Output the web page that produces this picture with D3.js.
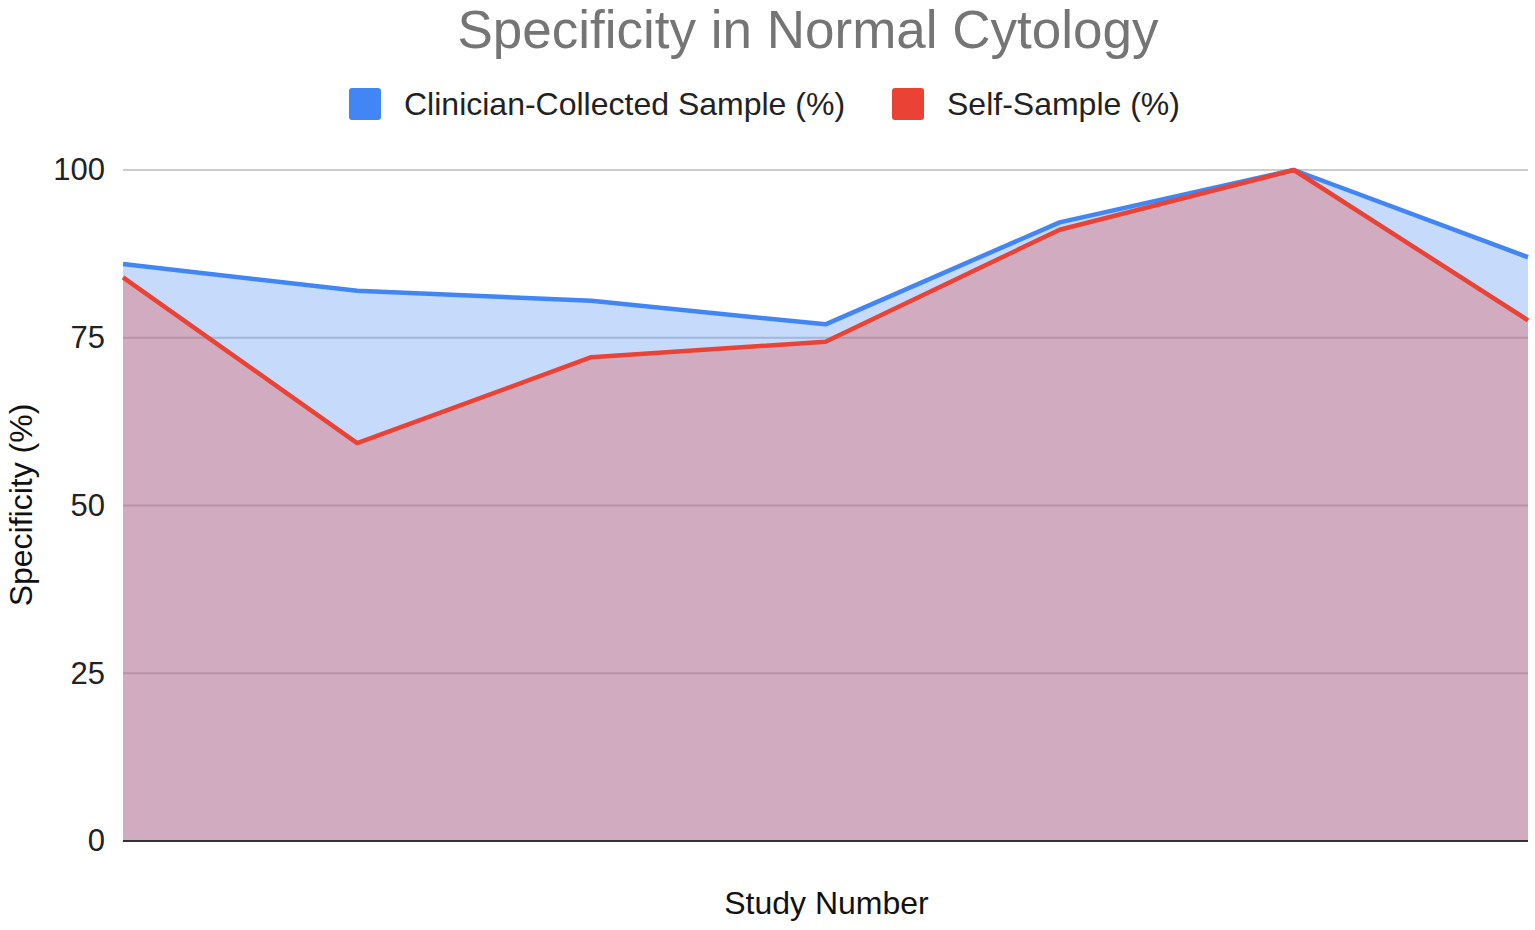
<!DOCTYPE html>
<html>
<head>
<meta charset="utf-8">
<script src="https://cdn.jsdelivr.net/npm/d3@7"></script>
<style>
  body { margin: 0; background: #fff; }
  svg { display: block; font-family: "Liberation Sans", Arial, sans-serif; }
</style>
</head>
<body>
<svg id="chart"></svg>
<script>
// data
const studies = [1, 2, 3, 4, 5, 6, 7];
const clinician = [86, 82, 80.5, 77, 92.2, 100, 87];
const selfSample = [84, 59.3, 72.1, 74.4, 91.1, 100, 77.6];
const yTicks = [0, 25, 50, 75, 100];
const seriesNames = ["Clinician-Collected Sample (%)", "Self-Sample (%)"];
const seriesColors = ["#4285f4", "#ea4335"];

const W = 1535, H = 930;
const margin = { top: 170, right: 7, bottom: 89, left: 123 };
const width = W - margin.left - margin.right;
const height = H - margin.top - margin.bottom;

const svg = d3.select("#chart").attr("width", W).attr("height", H);

const x = d3.scalePoint().domain(studies).range([0, width]);
const y = d3.scaleLinear().domain([0, 100]).range([height, 0]);

const g = svg.append("g").attr("transform", `translate(${margin.left},${margin.top})`);

// gridlines
g.append("g")
  .selectAll("line")
  .data(yTicks.filter(d => d !== 0))
  .join("line")
  .attr("x1", 0).attr("x2", width)
  .attr("y1", d => y(d)).attr("y2", d => y(d))
  .attr("stroke", "#cccccc")
  .attr("stroke-width", 2);

const series = [clinician, selfSample];

// areas
series.forEach((vals, i) => {
  g.append("path")
    .datum(vals)
    .attr("fill", seriesColors[i])
    .attr("fill-opacity", 0.3)
    .attr("d", d3.area()
      .x((d, j) => x(studies[j]))
      .y0(y(0))
      .y1(d => y(d)));
});

// baseline
g.append("line")
  .attr("x1", 0).attr("x2", width)
  .attr("y1", y(0)).attr("y2", y(0))
  .attr("stroke", "#333333")
  .attr("stroke-width", 2);

// lines
series.forEach((vals, i) => {
  g.append("path")
    .datum(vals)
    .attr("fill", "none")
    .attr("stroke", seriesColors[i])
    .attr("stroke-width", 4.5)
    .attr("stroke-linejoin", "round")
    .attr("d", d3.line()
      .x((d, j) => x(studies[j]))
      .y(d => y(d)));
});

// y axis labels
const yAxis = d3.axisLeft(y).tickValues(yTicks).tickSize(0).tickPadding(18);
g.append("g")
  .call(yAxis)
  .call(a => a.select(".domain").remove())
  .selectAll("text")
  .attr("font-size", 31)
  .attr("font-family", "Liberation Sans, Arial, sans-serif")
  .attr("fill", "#222");

// title
svg.append("text")
  .attr("x", 808).attr("y", 48)
  .attr("text-anchor", "middle")
  .attr("font-size", 53)
  .attr("fill", "#757575")
  .text("Specificity in Normal Cytology");

// legend
const legendItems = [
  { name: seriesNames[0], color: seriesColors[0], x: 349 },
  { name: seriesNames[1], color: seriesColors[1], x: 892 }
];
const legend = svg.append("g");
legendItems.forEach(it => {
  legend.append("rect")
    .attr("x", it.x).attr("y", 88)
    .attr("width", 32).attr("height", 32)
    .attr("rx", 3)
    .attr("fill", it.color);
  legend.append("text")
    .attr("x", it.x + 55).attr("y", 115)
    .attr("font-size", 32)
    .attr("fill", "#222")
    .text(it.name);
});

// axis titles
svg.append("text")
  .attr("x", margin.left + width / 2 + 1).attr("y", 914)
  .attr("text-anchor", "middle")
  .attr("font-size", 32)
  .attr("fill", "#111")
  .text("Study Number");

svg.append("text")
  .attr("transform", "translate(32,505) rotate(-90)")
  .attr("text-anchor", "middle")
  .attr("font-size", 32)
  .attr("fill", "#111")
  .text("Specificity (%)");
</script>
</body>
</html>
